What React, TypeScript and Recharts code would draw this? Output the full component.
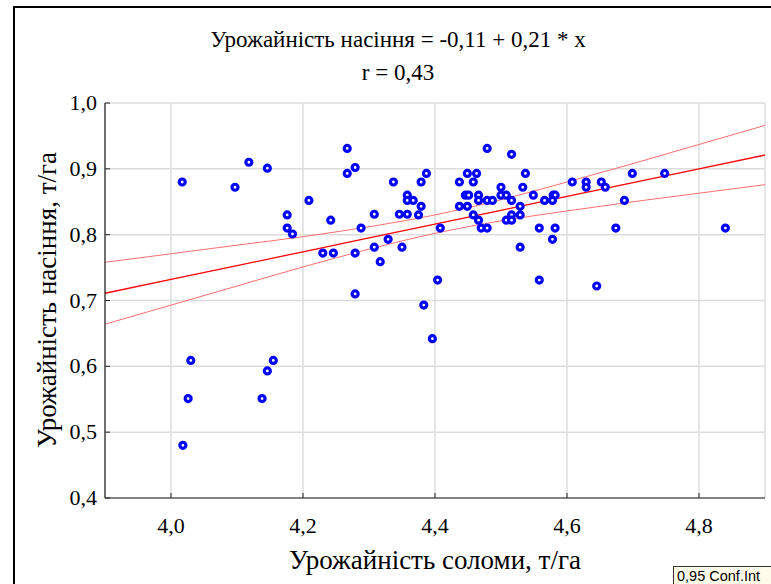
import {
  ComposedChart,
  Scatter,
  Line,
  XAxis,
  YAxis,
  CartesianGrid,
} from 'recharts'

// straw yield (t/ha) vs seed yield (t/ha)
const strawYield = [
  4.017, 4.097, 4.118, 4.146, 4.209, 4.176, 4.176, 4.184, 4.23, 4.246,
  4.242, 4.267, 4.267, 4.279, 4.279, 4.279, 4.288, 4.308, 4.308, 4.317,
  4.329, 4.337, 4.346, 4.35, 4.358, 4.358, 4.358, 4.367, 4.375, 4.379,
  4.379, 4.387, 4.404, 4.408, 4.437, 4.437, 4.446, 4.451, 4.449, 4.463,
  4.458, 4.449, 4.458, 4.466, 4.466, 4.466, 4.47, 4.479, 4.479, 4.479,
  4.487, 4.5, 4.5, 4.508, 4.508, 4.516, 4.516, 4.516, 4.516, 4.529,
  4.529, 4.529, 4.533, 4.537, 4.549, 4.558, 4.558, 4.566, 4.579, 4.582,
  4.578, 4.582, 4.578, 4.608, 4.629, 4.629, 4.652, 4.658, 4.699, 4.748,
  4.687, 4.674, 4.84, 4.645, 4.03, 4.026, 4.018, 4.155, 4.146, 4.138,
  4.383, 4.396,
]
const seedYield = [
  0.88, 0.872, 0.91, 0.901, 0.852, 0.83, 0.81, 0.801, 0.772, 0.772,
  0.822, 0.931, 0.893, 0.902, 0.772, 0.71, 0.81, 0.831, 0.781, 0.759,
  0.793, 0.88, 0.831, 0.781, 0.86, 0.852, 0.831, 0.852, 0.83, 0.88,
  0.843, 0.893, 0.731, 0.81, 0.88, 0.843, 0.86, 0.86, 0.893, 0.893,
  0.88, 0.843, 0.83, 0.86, 0.852, 0.822, 0.81, 0.931, 0.852, 0.81,
  0.852, 0.872, 0.86, 0.86, 0.822, 0.922, 0.852, 0.83, 0.822, 0.843,
  0.83, 0.781, 0.872, 0.893, 0.86, 0.81, 0.731, 0.852, 0.86, 0.86,
  0.852, 0.81, 0.793, 0.88, 0.88, 0.872, 0.88, 0.872, 0.893, 0.893,
  0.852, 0.81, 0.81, 0.722, 0.609, 0.551, 0.48, 0.609, 0.593, 0.551,
  0.693, 0.642,
]

// fitted line and 0.95 confidence band
const fitX = [3.9, 4.0, 4.1, 4.2, 4.3, 4.4, 4.5, 4.6, 4.7, 4.8, 4.9]
const fitY = [0.711, 0.732, 0.753, 0.774, 0.795, 0.816, 0.837, 0.858, 0.879, 0.9, 0.921]
const bandUpper = [0.758, 0.771, 0.784, 0.797, 0.812, 0.83, 0.853, 0.88, 0.908, 0.937, 0.966]
const bandLower = [0.664, 0.693, 0.722, 0.751, 0.778, 0.802, 0.821, 0.836, 0.85, 0.863, 0.876]

const xTicks = [4.0, 4.2, 4.4, 4.6, 4.8]
const yTicks = [0.4, 0.5, 0.6, 0.7, 0.8, 0.9, 1.0]

const points = strawYield.map((x, i) => ({ x, y: seedYield[i] }))
const fitData = fitX.map((x, i) => ({ x, fit: fitY[i], hi: bandUpper[i], lo: bandLower[i] }))

const SERIF = '"Liberation Serif", "DejaVu Serif", serif'
const fmt = (v: number) => v.toFixed(1).replace('.', ',')

function Ring({ cx, cy }: { cx?: number; cy?: number }) {
  if (cx == null || cy == null) return null
  return <circle cx={cx} cy={cy} r={3} fill="#fff" stroke="#0000ff" strokeWidth={3.2} />
}

interface TickProps {
  x?: number
  y?: number
  payload?: { value: number }
}

function XTick({ x, y, payload }: TickProps) {
  return (
    <text x={x} y={(y ?? 0) + 16} textAnchor="middle" fontFamily={SERIF} fontSize={22} fill="#000">
      {fmt(payload?.value ?? 0)}
    </text>
  )
}

function YTick({ x, y, payload }: TickProps) {
  return (
    <text x={x} y={(y ?? 0) + 7} textAnchor="end" fontFamily={SERIF} fontSize={22} fill="#000">
      {fmt(payload?.value ?? 0)}
    </text>
  )
}

const axisLine = { stroke: '#222', strokeWidth: 1.2 }

export default function App() {
  return (
    <div
      style={{
        position: 'absolute',
        left: 0,
        top: 0,
        width: 771,
        height: 584,
        background: '#fff',
        overflow: 'hidden',
        fontFamily: SERIF,
      }}
    >
      <div
        style={{
          position: 'absolute',
          left: 13,
          top: 6,
          width: 780,
          height: 600,
          borderTop: '2px solid #000',
          borderLeft: '2px solid #000',
        }}
      />
      <ComposedChart
        width={771}
        height={584}
        margin={{ top: 103, right: 6, bottom: 56, left: 45 }}
        style={{ position: 'absolute', left: 0, top: 0 }}
      >
        <CartesianGrid stroke="#dcdcdc" strokeWidth={1.5} />
        <XAxis
          dataKey="x"
          type="number"
          domain={[3.9, 4.9]}
          ticks={xTicks}
          tick={<XTick />}
          tickSize={-5}
          tickMargin={24}
          tickLine={{ stroke: '#222' }}
          axisLine={axisLine}
          height={30}
          allowDataOverflow
        />
        <XAxis
          xAxisId="top"
          orientation="top"
          type="number"
          domain={[3.9, 4.9]}
          ticks={xTicks}
          tick={false}
          tickSize={-5}
          tickLine={{ stroke: '#222' }}
          axisLine={axisLine}
          height={0}
        />
        <YAxis
          type="number"
          domain={[0.4, 1.0]}
          ticks={yTicks}
          tick={<YTick />}
          tickSize={-5}
          tickMargin={13}
          tickLine={{ stroke: '#222' }}
          axisLine={axisLine}
          width={60}
          allowDataOverflow
        />
        <YAxis
          yAxisId="right"
          orientation="right"
          type="number"
          domain={[0.4, 1.0]}
          ticks={yTicks}
          tick={false}
          tickSize={-5}
          tickLine={{ stroke: '#222' }}
          axisLine={axisLine}
          width={0}
        />
        <Line
          data={fitData}
          dataKey="hi"
          type="monotone"
          stroke="#ff7070"
          strokeWidth={1}
          dot={false}
          isAnimationActive={false}
        />
        <Line
          data={fitData}
          dataKey="lo"
          type="monotone"
          stroke="#ff7070"
          strokeWidth={1}
          dot={false}
          isAnimationActive={false}
        />
        <Line
          data={fitData}
          dataKey="fit"
          type="monotone"
          stroke="#ff0000"
          strokeWidth={1.3}
          dot={false}
          isAnimationActive={false}
        />
        <Scatter data={points} dataKey="y" shape={<Ring />} isAnimationActive={false} />
      </ComposedChart>

      <div style={{ position: 'absolute', left: 0, width: 796, top: 27, textAlign: 'center', fontSize: 23, lineHeight: '26px' }}>
        Урожайність насіння = -0,11 + 0,21 * x
      </div>
      <div style={{ position: 'absolute', left: 0, width: 796, top: 60, textAlign: 'center', fontSize: 23, lineHeight: '26px' }}>
        r = 0,43
      </div>
      <div style={{ position: 'absolute', left: 105, width: 660, top: 545, textAlign: 'center', fontSize: 27, lineHeight: '30px' }}>
        Урожайність соломи, т/га
      </div>
      <div
        style={{
          position: 'absolute',
          left: 47 - 200,
          top: 300 - 15,
          width: 400,
          textAlign: 'center',
          fontSize: 27,
          lineHeight: '30px',
          transform: 'rotate(-90deg)',
        }}
      >
        Урожайність насіння, т/га
      </div>
      <div
        style={{
          position: 'absolute',
          left: 673,
          top: 566,
          width: 110,
          height: 20,
          border: '1px solid #333',
          background: '#fffbea',
          fontFamily: '"Liberation Sans", Arial, sans-serif',
          fontSize: 14.5,
          lineHeight: '18px',
          paddingLeft: 3,
          boxSizing: 'border-box',
        }}
      >
        0,95 Conf.Int
      </div>
    </div>
  )
}
